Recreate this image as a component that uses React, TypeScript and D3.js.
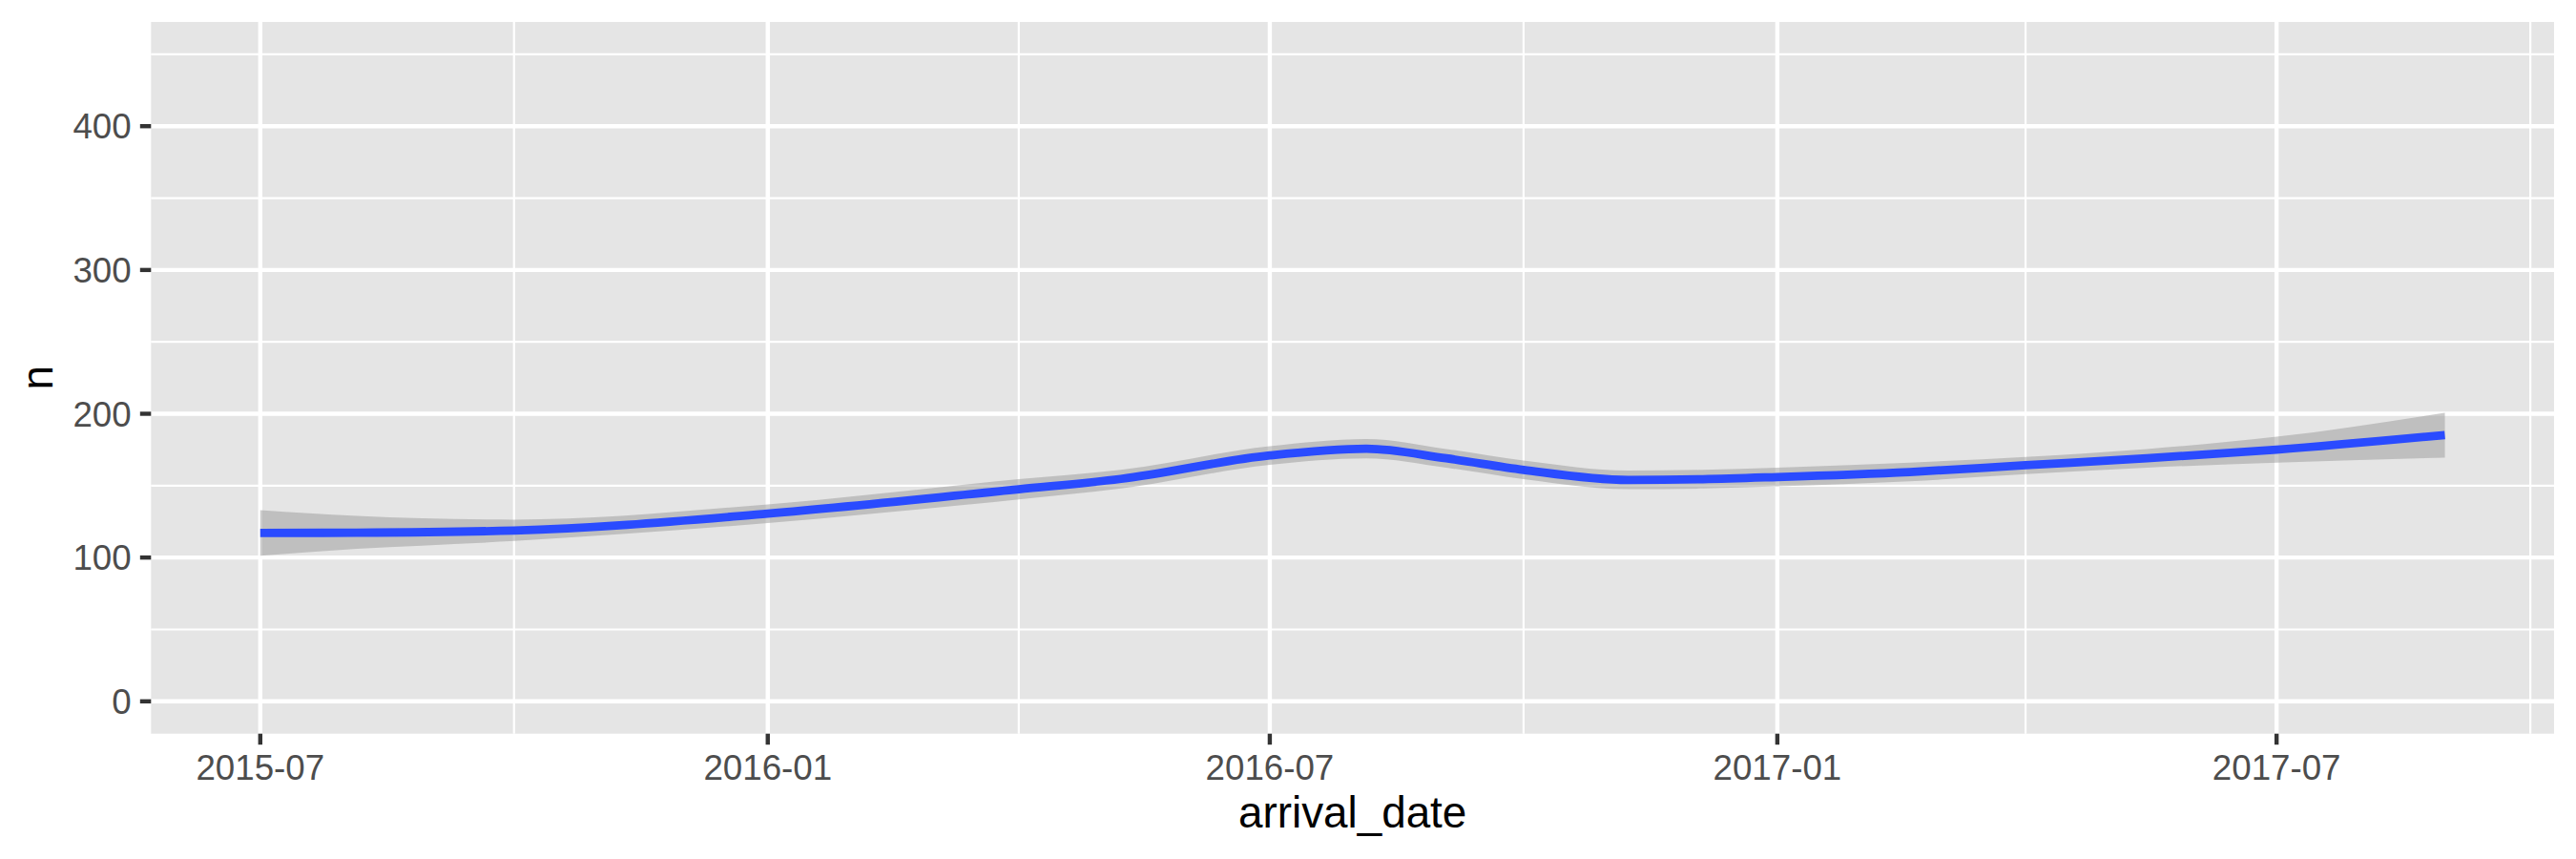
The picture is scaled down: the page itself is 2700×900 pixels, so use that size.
import React from "react";
import * as d3 from "d3";

// ---- data ----
const dates: string[] = [
  "2015-07-01", "2015-08-05", "2015-10-01", "2016-01-01", "2016-04-01", "2016-05-08",
  "2016-07-01", "2016-08-05", "2016-09-03", "2016-10-01", "2016-11-08", "2016-12-05",
  "2017-01-01", "2017-02-18", "2017-04-01", "2017-05-15", "2017-07-01", "2017-08-31",
];
const fitValues: number[] = [
  117.1, 117.3, 118.8, 130.5, 147.5, 154.7, 171.0, 175.7, 169.0, 161.0, 154.0, 154.5,
  156.0, 159.5, 164.2, 169.0, 175.0, 185.2,
];
const lowerValues: number[] = [
  101.3, 106.0, 111.5, 124.0, 140.5, 148.0, 164.5, 169.0, 162.5, 154.5, 147.5, 148.0,
  149.5, 153.0, 158.0, 162.5, 166.0, 169.5,
];
const upperValues: number[] = [
  133.0, 129.0, 126.4, 137.0, 154.5, 161.0, 177.5, 182.5, 175.5, 167.5, 160.5, 161.0,
  162.5, 166.0, 170.0, 175.5, 184.0, 200.7,
];
const xMajorTicks: string[] = ["2015-07-01", "2016-01-01", "2016-07-01", "2017-01-01", "2017-07-01"];
const xMinorTicks: string[] = ["2015-10-01", "2016-04-01", "2016-10-01", "2017-04-01", "2017-10-01"];
const yMajorTicks: number[] = [0, 100, 200, 300, 400];
const yMinorTicks: number[] = [50, 150, 250, 350, 450];
const yLimits: [number, number] = [0, 450];
const xLabel = "arrival_date";
const yLabel = "n";

const parse = d3.timeParse("%Y-%m-%d");
const fmt = d3.timeFormat("%Y-%m");

export default function App() {
  const W = 2700;
  const H = 900;
  const left = 158.3;
  const right = 2677;
  const top = 23;
  const bottom = 768.7;

  const pts = dates.map((d, i) => ({
    date: parse(d) as Date,
    fit: fitValues[i],
    lo: lowerValues[i],
    hi: upperValues[i],
  }));

  const [d0, d1] = d3.extent(pts, (p) => p.date) as [Date, Date];
  const span = +d1 - +d0;
  const x = d3
    .scaleTime()
    .domain([new Date(+d0 - span * 0.05), new Date(+d1 + span * 0.05)])
    .range([left, right]);
  const ySpan = yLimits[1] - yLimits[0];
  const y = d3
    .scaleLinear()
    .domain([yLimits[0] - ySpan * 0.05, yLimits[1] + ySpan * 0.05])
    .range([bottom, top]);

  const curve = d3.curveMonotoneX;
  const area = d3
    .area<typeof pts[number]>()
    .x((p) => x(p.date))
    .y0((p) => y(p.lo))
    .y1((p) => y(p.hi))
    .curve(curve);
  const line = d3
    .line<typeof pts[number]>()
    .x((p) => x(p.date))
    .y((p) => y(p.fit))
    .curve(curve);

  const font = "'Liberation Sans', Arial, Helvetica, sans-serif";
  const tickLen = 11.5;
  const majorW = 4.4;
  const minorW = 2.2;

  return (
    <div style={{ position: "absolute", left: 0, top: 0 }}>
      <svg width={W} height={H} style={{ display: "block", background: "#FFFFFF" }}>
        <rect x={left} y={top} width={right - left} height={bottom - top} fill="#E5E5E5" />
        {/* minor grid */}
        {yMinorTicks.map((v) => (
          <line key={"ym" + v} x1={left} x2={right} y1={y(v)} y2={y(v)} stroke="#FFFFFF" strokeWidth={minorW} />
        ))}
        {xMinorTicks.map((d) => (
          <line key={"xm" + d} x1={x(parse(d) as Date)} x2={x(parse(d) as Date)} y1={top} y2={bottom} stroke="#FFFFFF" strokeWidth={minorW} />
        ))}
        {/* major grid */}
        {yMajorTicks.map((v) => (
          <line key={"yM" + v} x1={left} x2={right} y1={y(v)} y2={y(v)} stroke="#FFFFFF" strokeWidth={majorW} />
        ))}
        {xMajorTicks.map((d) => (
          <line key={"xM" + d} x1={x(parse(d) as Date)} x2={x(parse(d) as Date)} y1={top} y2={bottom} stroke="#FFFFFF" strokeWidth={majorW} />
        ))}
        {/* ribbon and line */}
        <path d={area(pts) || ""} fill="#999999" fillOpacity={0.5} />
        <path d={line(pts) || ""} fill="none" stroke="#2A4BFF" strokeWidth={8.8} strokeLinejoin="round" />
        {/* y axis */}
        {yMajorTicks.map((v) => (
          <g key={"yt" + v}>
            <line x1={left - tickLen} x2={left} y1={y(v)} y2={y(v)} stroke="#333333" strokeWidth={majorW} />
            <text x={left - tickLen - 9.2} y={y(v)} dy="0.36em" textAnchor="end" fontFamily={font} fontSize={36.7} fill="#4D4D4D">
              {v}
            </text>
          </g>
        ))}
        {/* x axis */}
        {xMajorTicks.map((d) => {
          const dt = parse(d) as Date;
          return (
            <g key={"xt" + d}>
              <line x1={x(dt)} x2={x(dt)} y1={bottom} y2={bottom + tickLen} stroke="#333333" strokeWidth={majorW} />
              <text x={x(dt)} y={816.5} textAnchor="middle" fontFamily={font} fontSize={36.7} fill="#4D4D4D">
                {fmt(dt)}
              </text>
            </g>
          );
        })}
        <text x={(left + right) / 2} y={866.5} textAnchor="middle" fontFamily={font} fontSize={45.8} fill="#000000">
          {xLabel}
        </text>
        <text
          transform={`translate(55,${(top + bottom) / 2}) rotate(-90)`}
          textAnchor="middle"
          fontFamily={font}
          fontSize={45.8}
          fill="#000000"
        >
          {yLabel}
        </text>
      </svg>
    </div>
  );
}
